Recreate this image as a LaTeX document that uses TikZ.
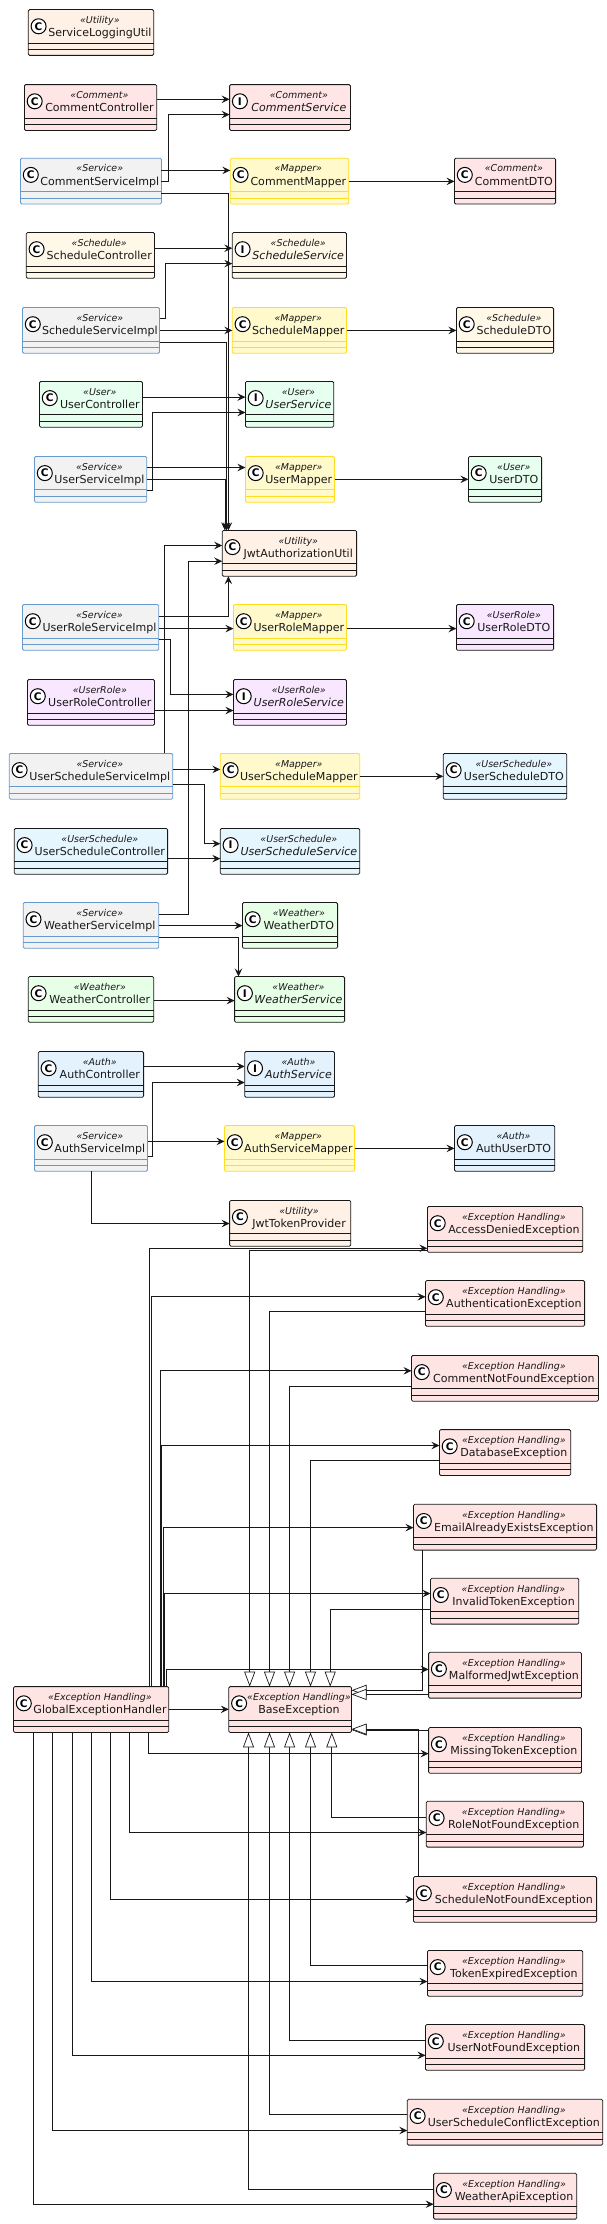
\documentclass[tikz,border=0pt]{standalone}
\usepackage{fontspec}
\setmainfont{DejaVu Sans}
\usetikzlibrary{arrows.meta,calc}
\definecolor{ink}{HTML}{181818}
\definecolor{cCom}{HTML}{FFE5E5}
\definecolor{cSch}{HTML}{FFF8E8}
\definecolor{cUsr}{HTML}{E6FFEE}
\definecolor{cRol}{HTML}{F9E6FF}
\definecolor{cUSc}{HTML}{E6F6FF}
\definecolor{cWea}{HTML}{E6FFE6}
\definecolor{cAut}{HTML}{E3F2FD}
\definecolor{cUti}{HTML}{FFF1E6}
\definecolor{cExc}{HTML}{FFE4E4}
\definecolor{cSvc}{HTML}{F2F2F2}
\definecolor{bSvc}{HTML}{6699CC}
\definecolor{cMap}{HTML}{FFF9CC}
\definecolor{bMap}{HTML}{FFDD22}
\tikzset{
  umlshape/.style={rectangle,rounded corners=1.3pt,line width=0.8pt,minimum height=45.8pt,inner sep=0pt,outer sep=0pt},
  spot/.style={circle,draw=black,fill=white,line width=1pt,minimum size=15pt,inner sep=0pt,text=black,font=\fontsize{10.5}{10.5}\selectfont\bfseries},
  stereo/.style={anchor=base,inner sep=0pt,text=ink,font=\fontsize{9.46}{10}\selectfont\itshape},
  clsname/.style={anchor=base,inner sep=0pt,text=ink,font=\fontsize{11.04}{12}\selectfont},
  dep/.style={draw=ink,line width=0.8pt,-{Stealth[length=8pt,width=7.5pt,inset=3pt]}},
  inh/.style={draw=ink,line width=0.7pt,-{Triangle[length=15pt,width=11pt,fill=white]}}
}
% name, fill, border, letter, x0, x1, y0, stereotype, label
\newcommand\umlbox[9]{%
  \node[umlshape,fill=#2,draw=#3,minimum width={#6pt-#5pt},anchor=north west] (#1) at (#5,#7) {};
  \draw[draw=#3,line width=0.8pt] ($(#1.north west)+(0,33.4)$) -- ($(#1.north east)+(0,33.4)$);
  \draw[draw=#3,line width=0.8pt] ($(#1.north west)+(0,40)$) -- ($(#1.north east)+(0,40)$);
  \node[spot] (#1-spot) at ($(#1.north west)+(10.3,16.7)$) {#4};
  \node[stereo] (#1-st) at ($(#1.north)+(8.85,13.7)$) {«#8»};
  \node[clsname] (#1-nm) at ($(#1.north)+(8.85,27)$) {#9};
}
\newcommand\dephh[3]{\draw[dep] (#1.east|-0,#3) -- (#2.west|-0,#3);}
\newcommand\dephvh[5]{\draw[dep] (#1.east|-0,#3) -- (#4,#3) -- (#4,#5) -- (#2.west|-0,#5);}
\begin{document}
\begin{tikzpicture}[x=1pt,y=-1pt]
\useasboundingbox (0,0) rectangle (607,2224);
\umlbox{logutil}{cUti}{ink}{C}{28.3}{153.7}{9.6}{Utility}{ServiceLoggingUtil}
\umlbox{comctl}{cCom}{ink}{C}{24.4}{156.8}{84.6}{Comment}{CommentController}
\umlbox{comsvc}{cCom}{ink}{I}{229.6}{350.4}{84.6}{Comment}{\itshape CommentService}
\umlbox{comimp}{cSvc}{bSvc}{C}{20.5}{161.4}{158.2}{Service}{CommentServiceImpl}
\umlbox{commap}{cMap}{bMap}{C}{230.3}{348.8}{158.2}{Mapper}{CommentMapper}
\umlbox{comdto}{cCom}{ink}{C}{454.5}{555.6}{158.2}{Comment}{CommentDTO}
\umlbox{schctl}{cSch}{ink}{C}{26.3}{154.5}{232.5}{Schedule}{ScheduleController}
\umlbox{schsvc}{cSch}{ink}{I}{232.3}{346.5}{232.5}{Schedule}{\itshape ScheduleService}
\umlbox{schimp}{cSvc}{bSvc}{C}{22.5}{159.5}{307.5}{Service}{ScheduleServiceImpl}
\umlbox{schmap}{cMap}{bMap}{C}{232.3}{346.5}{307.5}{Mapper}{ScheduleMapper}
\umlbox{schdto}{cSch}{ink}{C}{456.4}{553.6}{307.5}{Schedule}{ScheduleDTO}
\umlbox{usrctl}{cUsr}{ink}{C}{39.5}{142.5}{381.4}{User}{UserController}
\umlbox{usrsvc}{cUsr}{ink}{I}{245.4}{333.7}{381.4}{User}{\itshape UserService}
\umlbox{usrimp}{cSvc}{bSvc}{C}{34.5}{146.7}{456.4}{Service}{UserServiceImpl}
\umlbox{usrmap}{cMap}{bMap}{C}{245.4}{334.5}{456.4}{Mapper}{UserMapper}
\umlbox{usrdto}{cUsr}{ink}{C}{468.4}{541.6}{456.4}{User}{UserDTO}
\umlbox{jwtutil}{cUti}{ink}{C}{222.2}{356.6}{530.4}{Utility}{JwtAuthorizationUtil}
\umlbox{rolimp}{cSvc}{bSvc}{C}{22.5}{158.7}{604.5}{Service}{UserRoleServiceImpl}
\umlbox{rolmap}{cMap}{bMap}{C}{233.4}{346.5}{604.5}{Mapper}{UserRoleMapper}
\umlbox{roldto}{cRol}{ink}{C}{456.4}{553.6}{604.5}{UserRole}{UserRoleDTO}
\umlbox{rolctl}{cRol}{ink}{C}{27.5}{154.5}{679.5}{UserRole}{UserRoleController}
\umlbox{rolsvc}{cRol}{ink}{I}{233.4}{346.5}{679.5}{UserRole}{\itshape UserRoleService}
\umlbox{uscimp}{cSvc}{bSvc}{C}{9.3}{172.7}{753.4}{Service}{UserScheduleServiceImpl}
\umlbox{uscmap}{cMap}{bMap}{C}{220.3}{359.7}{753.4}{Mapper}{UserScheduleMapper}
\umlbox{uscdto}{cUSc}{ink}{C}{443.3}{566.8}{753.4}{UserSchedule}{UserScheduleDTO}
\umlbox{uscctl}{cUSc}{ink}{C}{14.3}{167.6}{828.4}{UserSchedule}{UserScheduleController}
\umlbox{uscsvc}{cUSc}{ink}{I}{220.3}{359.7}{828.4}{UserSchedule}{\itshape UserScheduleService}
\umlbox{weaimp}{cSvc}{bSvc}{C}{23.2}{158.7}{902.5}{Service}{WeatherServiceImpl}
\umlbox{weadto}{cWea}{ink}{C}{242.4}{337.6}{902.5}{Weather}{WeatherDTO}
\umlbox{weactl}{cWea}{ink}{C}{28.3}{153.7}{976.5}{Weather}{WeatherController}
\umlbox{weasvc}{cWea}{ink}{I}{234.6}{344.6}{976.5}{Weather}{\itshape WeatherService}
\umlbox{autctl}{cAut}{ink}{C}{38.3}{143.6}{1051.5}{Auth}{AuthController}
\umlbox{autsvc}{cAut}{ink}{I}{244.7}{334.5}{1051.5}{Auth}{\itshape AuthService}
\umlbox{autimp}{cSvc}{bSvc}{C}{34.5}{147.5}{1125.5}{Service}{AuthServiceImpl}
\umlbox{autmap}{cMap}{bMap}{C}{224.5}{354.6}{1125.5}{Mapper}{AuthServiceMapper}
\umlbox{autdto}{cAut}{ink}{C}{454.5}{554.8}{1125.5}{Auth}{AuthUserDTO}
\umlbox{jwtprov}{cUti}{ink}{C}{229.6}{350.8}{1200.4}{Utility}{JwtTokenProvider}
\umlbox{exden}{cExc}{ink}{C}{427.4}{582.7}{1206.5}{Exception Handling}{AccessDeniedException}
\umlbox{exaut}{cExc}{ink}{C}{425.5}{584.6}{1280.5}{Exception Handling}{AuthenticationException}
\umlbox{excom}{cExc}{ink}{C}{411.5}{598.5}{1355.4}{Exception Handling}{CommentNotFoundException}
\umlbox{exdb}{cExc}{ink}{C}{439.4}{570.7}{1429.6}{Exception Handling}{DatabaseException}
\umlbox{exeml}{cExc}{ink}{C}{413.5}{596.6}{1504.3}{Exception Handling}{EmailAlreadyExistsException}
\umlbox{exinv}{cExc}{ink}{C}{430.5}{578.8}{1578.3}{Exception Handling}{InvalidTokenException}
\umlbox{exmal}{cExc}{ink}{C}{428.6}{581.5}{1652.3}{Exception Handling}{MalformedJwtException}
\umlbox{exmis}{cExc}{ink}{C}{428.6}{581.5}{1727.5}{Exception Handling}{MissingTokenException}
\umlbox{exrol}{cExc}{ink}{C}{426.3}{583.4}{1801.3}{Exception Handling}{RoleNotFoundException}
\umlbox{exsch}{cExc}{ink}{C}{413.5}{596.6}{1876.5}{Exception Handling}{ScheduleNotFoundException}
\umlbox{exexp}{cExc}{ink}{C}{427.4}{582.7}{1950.4}{Exception Handling}{TokenExpiredException}
\umlbox{exusr}{cExc}{ink}{C}{425.5}{584.6}{2024.5}{Exception Handling}{UserNotFoundException}
\umlbox{excon}{cExc}{ink}{C}{407.3}{602.8}{2099.3}{Exception Handling}{UserScheduleConflictException}
\umlbox{exwea}{cExc}{ink}{C}{433.6}{576.8}{2173.3}{Exception Handling}{WeatherApiException}
\umlbox{geh}{cExc}{ink}{C}{13.5}{168.8}{1686.6}{Exception Handling}{GlobalExceptionHandler}
\umlbox{base}{cExc}{ink}{C}{228.8}{351.5}{1686.6}{Exception Handling}{BaseException}
% dependencies
\dephh{comctl}{comsvc}{99.3}
\dephvh{comimp}{comsvc}{181.4}{168.4}{114.6}
\dephh{comimp}{commap}{170.4}
\draw[dep] (comimp.east|-0,193.3) -- (228.4,193.3) -- (jwtutil.north-|228.4,0);
\dephh{commap}{comdto}{181.4}
\dephh{schctl}{schsvc}{248.2}
\dephvh{schimp}{schsvc}{318.2}{165.7}{263.6}
\dephh{schimp}{schmap}{330.4}
\draw[dep] (schimp.east|-0,342.5) -- (226.5,342.5) -- (jwtutil.north-|226.5,0);
\dephh{schmap}{schdto}{330.4}
\dephh{usrctl}{usrsvc}{397.1}
\dephvh{usrimp}{usrsvc}{490.4}{152.5}{412.5}
\dephh{usrimp}{usrmap}{467.5}
\draw[dep] (usrimp.east|-0,479.3) -- (224.9,479.3) -- (jwtutil.north-|224.9,0);
\dephh{usrmap}{usrdto}{479.3}
\draw[dep] (rolimp.east|-0,616.3) -- (228.4,616.3) -- (jwtutil.south-|228.4,0);
\dephh{rolimp}{rolmap}{628.6}
\dephvh{rolimp}{rolsvc}{639.3}{170.3}{694.4}
\dephh{rolctl}{rolsvc}{710.5}
\dephh{rolmap}{roldto}{628.6}
\draw[dep] (uscimp.north-|164.5,0) -- (164.5,545.5) -- (jwtutil.west|-0,545.5);
\dephh{uscimp}{uscmap}{769.4}
\dephvh{uscimp}{uscsvc}{784.3}{204.4}{843.7}
\dephh{uscctl}{uscsvc}{858.6}
\dephh{uscmap}{uscdto}{776.3}
\dephvh{weaimp}{jwtutil}{914.5}{188.5}{561.2}
\dephh{weaimp}{weadto}{925.6}
\draw[dep] (weaimp.east|-0,937.4) -- (238.5,937.4) -- (weasvc.north-|238.5,0);
\dephh{weactl}{weasvc}{1000.6}
\dephh{autctl}{autsvc}{1066.4}
\dephvh{autimp}{autsvc}{1156.2}{152.5}{1082.5}
\dephh{autimp}{autmap}{1141.4}
\dephh{autmap}{autdto}{1148.4}
\draw[dep] (autimp.south-|91.4,0) -- (91.4,1223.5) -- (jwtprov.west|-0,1223.5);
% inheritance
\draw[inh] (exden.west|-0,1250.5) -- (249.7,1250.5) -- (base.north-|249.7,0);
\draw[inh] (exaut.west|-0,1311.6) -- (269.5,1311.6) -- (base.north-|269.5,0);
\draw[inh] (excom.west|-0,1386.3) -- (289.6,1386.3) -- (base.north-|289.6,0);
\draw[inh] (exdb.west|-0,1460.3) -- (310.5,1460.3) -- (base.north-|310.5,0);
\draw[inh] (exinv.west|-0,1609.4) -- (330.2,1609.4) -- (base.north-|330.2,0);
\draw[inh] (exeml.south-|422.4,0) -- (422.4,1690.3) -- (base.east|-0,1690.3);
\draw[inh] (exmal.west|-0,1694.4) -- (base.east|-0,1694.4);
\draw[inh] (exmis.west|-0,1729.9) -- (base.east|-0,1729.9);
\draw[inh] (exsch.north-|418.5,0) -- (418.5,1729.1) -- (base.east|-0,1729.1);
\draw[inh] (exrol.west|-0,1817.3) -- (331.8,1817.3) -- (base.south-|331.8,0);
\draw[inh] (exexp.west|-0,1965.5) -- (310.5,1965.5) -- (base.south-|310.5,0);
\draw[inh] (exusr.west|-0,2040.7) -- (289.6,2040.7) -- (base.south-|289.6,0);
\draw[inh] (excon.west|-0,2114.5) -- (269.5,2114.5) -- (base.south-|269.5,0);
\draw[inh] (exwea.west|-0,2189.3) -- (248.5,2189.3) -- (base.south-|248.5,0);
% handler
\draw[dep] (geh.north-|149.4,0) -- (149.4,1248.3) -- (exden.west|-0,1248.3);
\draw[dep] (geh.north-|151.4,0) -- (151.4,1296.8) -- (exaut.west|-0,1296.8);
\draw[dep] (geh.north-|160.3,0) -- (160.3,1370.8) -- (excom.west|-0,1370.8);
\draw[dep] (geh.north-|161.2,0) -- (161.2,1445.5) -- (exdb.west|-0,1445.5);
\draw[dep] (geh.north-|163.4,0) -- (163.4,1527.6) -- (exeml.west|-0,1527.6);
\draw[dep] (geh.north-|164.3,0) -- (164.3,1593.5) -- (exinv.west|-0,1593.5);
\draw[dep] (geh.north-|166.5,0) -- (166.5,1669.4) -- (exmal.west|-0,1669.4);
\dephh{geh}{base}{1709.3}
\draw[dep] (geh.south-|148.3,0) -- (148.3,1753.6) -- (exmis.west|-0,1753.6);
\draw[dep] (geh.south-|129.3,0) -- (129.3,1832.5) -- (exrol.west|-0,1832.5);
\draw[dep] (geh.south-|110.3,0) -- (110.3,1899.2) -- (exsch.west|-0,1899.2);
\draw[dep] (geh.south-|91.4,0) -- (91.4,1981.5) -- (exexp.west|-0,1981.5);
\draw[dep] (geh.south-|72.4,0) -- (72.4,2055.3) -- (exusr.west|-0,2055.3);
\draw[dep] (geh.south-|52.3,0) -- (52.3,2130.5) -- (excon.west|-0,2130.5);
\draw[dep] (geh.south-|33.7,0) -- (33.7,2204.2) -- (exwea.west|-0,2204.2);
\end{tikzpicture}
\end{document}
